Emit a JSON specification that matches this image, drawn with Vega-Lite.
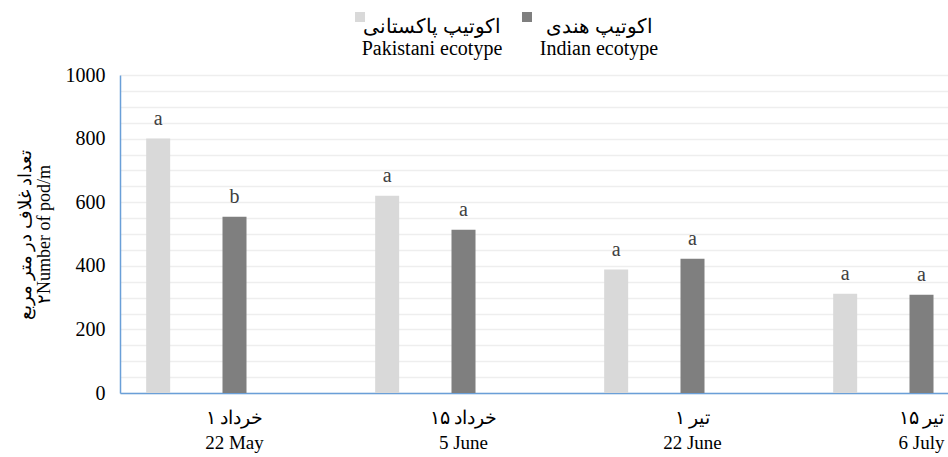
{
  "$schema": "https://vega.github.io/schema/vega-lite/v6.json",
  "width": 828,
  "height": 318,
  "autosize": "none",
  "padding": {"left": 120, "top": 75, "right": 0, "bottom": 64},
  "background": "white",
  "config": {"view": {"stroke": null}, "font": "Liberation Serif"},
  "data": {
    "values": [
      {"date": "۱ خرداد|22 May", "ecotype": "Pakistani", "value": 800, "letter": "a"},
      {"date": "۱ خرداد|22 May", "ecotype": "Indian", "value": 554, "letter": "b"},
      {"date": "۱۵ خرداد|5 June", "ecotype": "Pakistani", "value": 620, "letter": "a"},
      {"date": "۱۵ خرداد|5 June", "ecotype": "Indian", "value": 513, "letter": "a"},
      {"date": "۱ تیر|22 June", "ecotype": "Pakistani", "value": 388, "letter": "a"},
      {"date": "۱ تیر|22 June", "ecotype": "Indian", "value": 422, "letter": "a"},
      {"date": "۱۵ تیر|6 July", "ecotype": "Pakistani", "value": 312, "letter": "a"},
      {"date": "۱۵ تیر|6 July", "ecotype": "Indian", "value": 309, "letter": "a"}
    ]
  },
  "encoding": {
    "x": {
      "field": "date",
      "type": "nominal",
      "sort": null,
      "scale": {
        "domain": ["۱ خرداد|22 May", "۱۵ خرداد|5 June", "۱ تیر|22 June", "۱۵ تیر|6 July"],
        "range": [0, 916],
        "paddingInner": 0,
        "paddingOuter": 0
      },
      "axis": {
        "title": null,
        "labelAngle": 0,
        "domainColor": "#6a9fd8",
        "domainWidth": 1.5,
        "ticks": false,
        "grid": false,
        "labelExpr": "split(datum.label, '|')",
        "labelFontSize": 19,
        "labelColor": "#000000",
        "labelPadding": 15,
        "labelLineHeight": 25
      }
    },
    "xOffset": {
      "field": "ecotype",
      "type": "nominal",
      "scale": {"domain": ["Pakistani", "Indian", "none"]}
    },
    "y": {
      "field": "value",
      "type": "quantitative",
      "scale": {"domain": [0, 1000], "nice": false},
      "axis": {
        "values": [0, 50, 100, 150, 200, 250, 300, 350, 400, 450, 500, 550, 600, 650, 700, 750, 800, 850, 900, 950, 1000],
        "labelExpr": "datum.value % 200 === 0 ? datum.label : ''",
        "format": "d",
        "grid": true,
        "gridColor": "#eeeeee",
        "gridWidth": 1.5,
        "domainColor": "#6a9fd8",
        "domainWidth": 1.5,
        "ticks": false,
        "labelFontSize": 20,
        "labelColor": "#000000",
        "labelPadding": 15,
        "title": ["تعداد غلاف در متر مربع", "۲Number of pod/m"],
        "titleFontSize": 18,
        "titleFontWeight": "normal",
        "titleColor": "#000000",
        "titleLineHeight": 19,
        "titlePadding": 12
      }
    }
  },
  "layer": [
    {
      "mark": {"type": "bar", "width": 24},
      "encoding": {
        "color": {
          "field": "ecotype",
          "type": "nominal",
          "scale": {"domain": ["Pakistani", "Indian"], "range": ["#d9d9d9", "#7f7f7f"]},
          "legend": {
            "orient": "none",
            "legendX": 230,
            "legendY": -68,
            "direction": "horizontal",
            "title": null,
            "symbolType": "square",
            "symbolSize": 100,
            "symbolStrokeWidth": 0,
            "labelExpr": "datum.label == 'Pakistani' ? ['اکوتیپ پاکستانی', 'Pakistani ecotype'] : ['اکوتیپ هندی', 'Indian ecotype']",
            "labelFontSize": 20,
            "labelLineHeight": 29,
            "labelColor": "#000000",
            "labelAlign": "center",
            "labelBaseline": "top",
            "labelOffset": 62,
            "labelLimit": 300,
            "columnPadding": 14
          }
        }
      }
    },
    {
      "mark": {"type": "text", "baseline": "alphabetic", "dy": -14, "fontSize": 20, "color": "#404040"},
      "encoding": {"text": {"field": "letter"}}
    }
  ]
}
